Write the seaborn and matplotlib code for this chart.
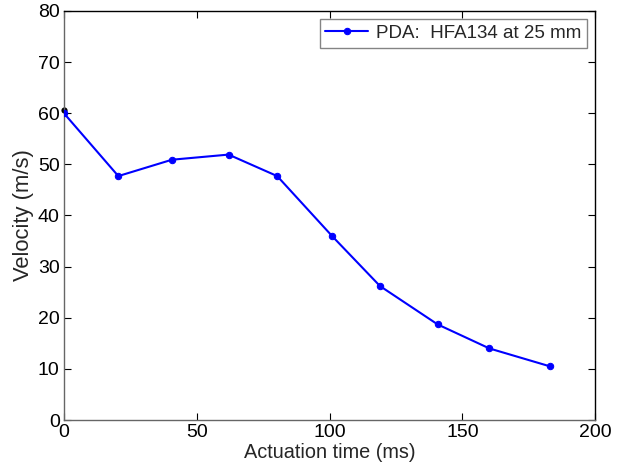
import matplotlib
matplotlib.use("Agg")
import matplotlib.pyplot as plt
import seaborn as sns
import pandas as pd

time_ms = [0, 20.5, 40.7, 62.0, 80.3, 101.1, 119.0, 140.7, 160.2, 183.0]
velocity = [60.0, 47.7, 50.9, 51.9, 47.7, 35.9, 26.2, 18.7, 14.0, 10.5]
extra_x = [0]
extra_y = [60.6]
series_label = "PDA:  HFA134 at 25 mm"
x_ticks = [0, 50, 100, 150, 200]
y_ticks = [0, 10, 20, 30, 40, 50, 60, 70, 80]

sns.set_style("ticks")
plt.rcParams['font.family'] = ['Liberation Sans', 'DejaVu Sans']

df = pd.DataFrame({"t": time_ms, "v": velocity})
df2 = pd.DataFrame({"t": extra_x, "v": extra_y})

fig = plt.figure(figsize=(6.2, 4.72), dpi=100)
ax = fig.add_axes([0.103, 0.110, 0.857, 0.867])

sns.lineplot(data=df, x="t", y="v", ax=ax, color="#0000ff", marker="o",
             markersize=4.6, markeredgecolor="#0000ff", linewidth=1.5,
             label=series_label, zorder=3)
sns.scatterplot(data=df2, x="t", y="v", ax=ax, color="black", s=20,
                edgecolor="black", linewidth=0, zorder=2.5, legend=False,
                clip_on=False)

ax.set_xlim(0, 200)
ax.set_ylim(0, 80)
ax.set_xticks(x_ticks)
ax.set_yticks(y_ticks)
ax.tick_params(direction="in", top=True, right=True, length=5, width=0.8,
               labelsize=14, colors="black", pad=3)
for s in ["left", "bottom"]:
    ax.spines[s].set_color("#666666")
for s in ["top", "right"]:
    ax.spines[s].set_color("black")
for s in ax.spines.values():
    s.set_linewidth(1.0)
ax.set_xlabel("Actuation time (ms)", fontsize=14.3, labelpad=1)
ax.set_ylabel("Velocity (m/s)", fontsize=15.8, labelpad=3)

leg = ax.legend(loc="upper right", fontsize=13.5, frameon=True, fancybox=False,
                borderaxespad=0.45, handlelength=2.3, handletextpad=0.4,
                borderpad=0.3)
leg.get_frame().set_edgecolor("#666666")
leg.get_frame().set_linewidth(1.0)

fig.savefig("out.png", dpi=100)
